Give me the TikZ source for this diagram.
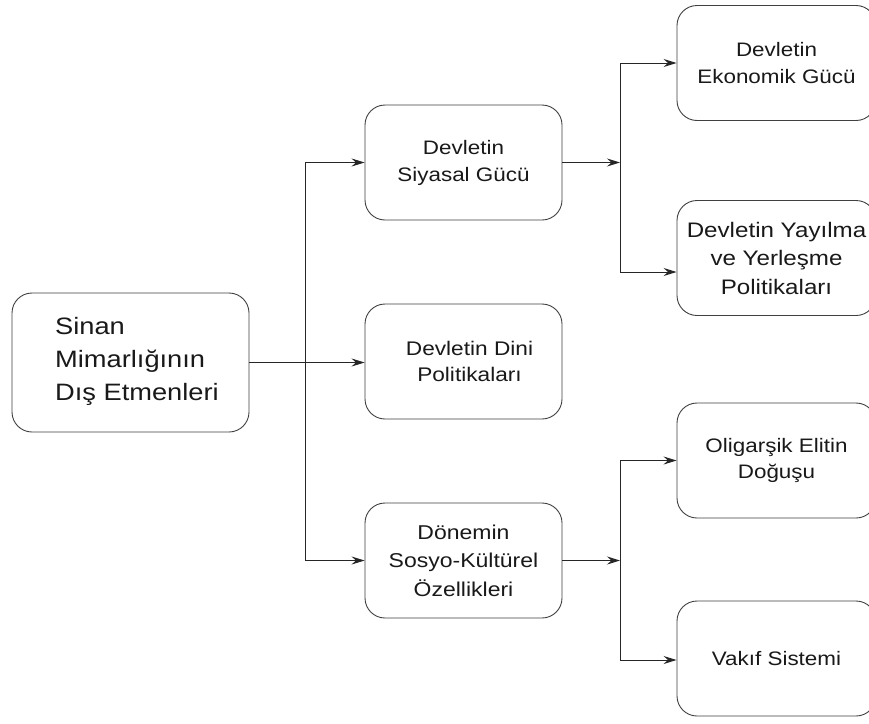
\documentclass[tikz,border=0pt]{standalone}
\usepackage{fontspec}
\setmainfont{Liberation Sans}[FakeStretch=1.15]
\usetikzlibrary{arrows.meta}
\begin{document}
\begin{tikzpicture}[x=1pt,y=-1pt,
  box/.style={draw=black!75, line width=0.9pt, rounded corners=20pt, align=center,
              inner sep=0pt, text=black!90, font=\fontsize{19.5}{27}\selectfont},
  midbox/.style={box, minimum width=197pt, minimum height=115pt},
  leafbox/.style={box, minimum width=199pt, minimum height=115pt},
  link/.style={draw=black!85, line width=1pt},
  arr/.style={link, -{Stealth[length=13pt,width=8pt,inset=4.5pt]}},
]
\useasboundingbox (0,0) rectangle (869,723);
\fill[white] (0,0) rectangle (869,723);

% root
\node[box, minimum width=237pt, minimum height=139pt] (root) at (130.5,362.5) {};
\node[anchor=west, align=left, inner sep=0pt, text=black!90,
      font=\fontsize{23.7}{33}\selectfont] (roottext) at (55,361)
      {Sinan\\Mimarlığının\\Dış Etmenleri};

% second level
\node[midbox] (pol) at (463.5,162.5) {Devletin\\Siyasal Gücü};
\node[midbox, font=\fontsize{19.7}{26}\selectfont] (rel) at (463.5,361.5)
      {\hspace*{12pt}Devletin Dini\\\hspace*{12pt}Politikaları};
\node[midbox, font=\fontsize{20}{28.5}\selectfont] (soc) at (463.5,560.5)
      {Dönemin\\Sosyo-Kültürel\\Özellikleri};

% third level
\node[leafbox] (eco) at (776.5,63) {Devletin\\Ekonomik Gücü};
\node[leafbox, font=\fontsize{21}{28.5}\selectfont] (exp) at (776.5,258)
      {Devletin Yayılma\\ve Yerleşme\\Politikaları};
\node[leafbox, font=\fontsize{19.5}{25.5}\selectfont] (oli) at (776.5,460.5)
      {Oligarşik Elitin\\Doğuşu};
\node[leafbox] (vak) at (776.5,658.5) {Vakıf Sistemi};

% junction points
\coordinate (j1top) at (305,162.5);
\coordinate (j1bot) at (305,560.5);
\coordinate (j2) at (620,162.5);
\coordinate (j2top) at (620,63);
\coordinate (j2bot) at (620,272);
\coordinate (j3) at (620,560.5);
\coordinate (j3top) at (620,460.5);
\coordinate (j3bot) at (620,660);

% root to second level
\draw[arr] (root.east) -- (root.east -| rel.west);
\draw[link] (j1top) -- (j1bot);
\draw[arr] (j1top) -- (pol.west);
\draw[arr] (j1bot) -- (soc.west);

% political power branch
\draw[arr] (pol.east) -- (j2);
\draw[link] (j2top) -- (j2bot);
\draw[arr] (j2top) -- (eco.west);
\draw[arr] (j2bot) -- (j2bot -| exp.west);

% socio-cultural branch
\draw[arr] (soc.east) -- (j3);
\draw[link] (j3top) -- (j3bot);
\draw[arr] (j3top) -- (oli.west);
\draw[arr] (j3bot) -- (j3bot -| vak.west);
\end{tikzpicture}
\end{document}
